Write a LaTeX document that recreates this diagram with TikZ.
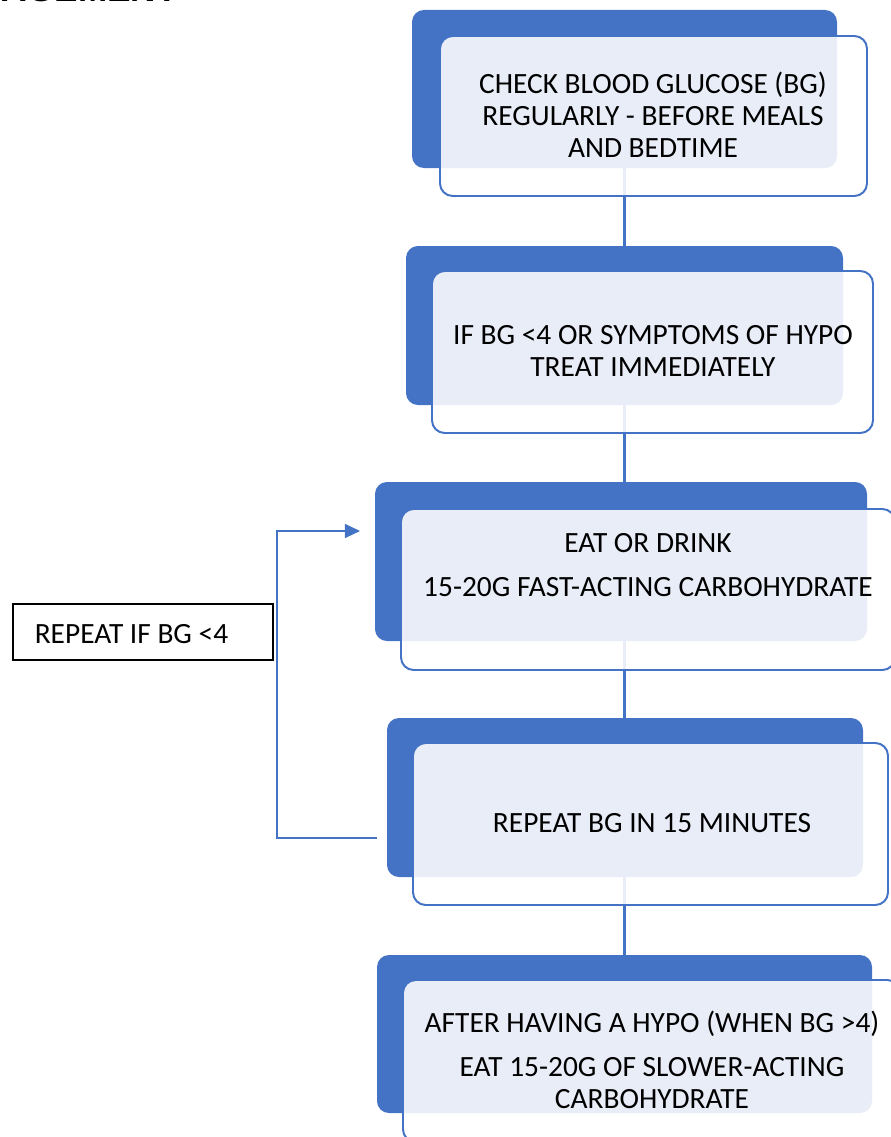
\documentclass[tikz,border=0pt]{standalone}
\usepackage{fontspec}
\setmainfont{Carlito}
\newfontfamily\headfont{Liberation Sans}
\usetikzlibrary{arrows.meta}
\definecolor{cardblue}{HTML}{4472C4}
\newcommand{\pxw}{0.025cm}
\begin{document}
\begin{tikzpicture}[x=0.025cm, y=-0.025cm,
    backcard/.style={fill=cardblue, rounded corners=8.5pt, inner sep=0pt, outer sep=0pt},
    frontcard/.style={draw=cardblue, line width=1.4pt, fill=white, fill opacity=0.88,
      rounded corners=9pt, inner sep=0pt, outer sep=0pt},
    steptext/.style={font=\fontsize{20.9}{22.8}\selectfont, align=center, inner sep=0pt},
    conn/.style={draw=cardblue, line width=1.8pt},
    loopline/.style={draw=cardblue, line width=0.8pt}]
  \useasboundingbox (0,0) rectangle (890,1137);

  % cut-off heading
  \node[anchor=base east, inner sep=0pt, font=\headfont\bfseries\fontsize{25}{30}\selectfont]
    (heading) at (178,1.5) {MANAGEMENT};

  % back cards
  \node[backcard, minimum width=425*\pxw, minimum height=158*\pxw] (back1) at (624.5,89) {};
  \node[backcard, minimum width=437*\pxw, minimum height=159*\pxw] (back2) at (624.5,325.5) {};
  \node[backcard, minimum width=492*\pxw, minimum height=159*\pxw] (back3) at (621,561.5) {};
  \node[backcard, minimum width=476*\pxw, minimum height=159*\pxw] (back4) at (625,797.5) {};
  \node[backcard, minimum width=495*\pxw, minimum height=158*\pxw] (back5) at (624.5,1034) {};

  % connectors
  \draw[conn] (back1.south) -- (back1.south |- back2.north);
  \draw[conn] (back2.south) -- (back2.south |- back3.north);
  \draw[conn] (back3.south -| back2.south) -- (back2.south |- back4.north);
  \draw[conn] (back4.south -| back2.south) -- (back2.south |- back5.north);

  % repeat loop
  \coordinate (loopin) at (377,838);
  \coordinate (loopup) at (277,531);
  \coordinate (loopout) at (360,531);
  \draw[loopline, -{Triangle[length=10.7pt, width=10pt]}] (loopin) -| (loopup) -- (loopout);

  % front cards
  \node[frontcard, minimum width=427*\pxw, minimum height=160*\pxw] (front1) at (653.5,116) {};
  \node[frontcard, minimum width=441*\pxw, minimum height=162*\pxw] (front2) at (652.5,352) {};
  \node[frontcard, minimum width=494*\pxw, minimum height=161*\pxw] (front3) at (648,589.5) {};
  \node[frontcard, minimum width=475*\pxw, minimum height=162*\pxw] (front4) at (650.5,824) {};
  \node[frontcard, minimum width=497*\pxw, minimum height=162*\pxw] (front5) at (651.5,1061) {};

  \node[steptext] (check) at (653,115)
    {CHECK BLOOD GLUCOSE (BG)\\REGULARLY - BEFORE MEALS\\AND BEDTIME};
  \node[steptext] (treat) at (653,351)
    {IF BG <4 OR SYMPTOMS OF HYPO\\TREAT IMMEDIATELY};
  \node[steptext] (eat) at (648,565)
    {EAT OR DRINK\\[8.5pt]15-20G FAST-ACTING CARBOHYDRATE};
  \node[steptext] (recheck) at (652,823) {REPEAT BG IN 15 MINUTES};
  \node[steptext] (after) at (652,1060)
    {AFTER HAVING A HYPO (WHEN BG >4)\\[8pt]EAT 15-20G OF SLOWER-ACTING\\CARBOHYDRATE};

  % side note
  \node[draw=black, line width=1.2pt, minimum width=260*\pxw, minimum height=56*\pxw,
    inner sep=0pt] (repeatbox) at (143,632) {};
  \node[steptext] (repeat) at (131.5,634) {REPEAT IF BG <4};
\end{tikzpicture}
\end{document}
